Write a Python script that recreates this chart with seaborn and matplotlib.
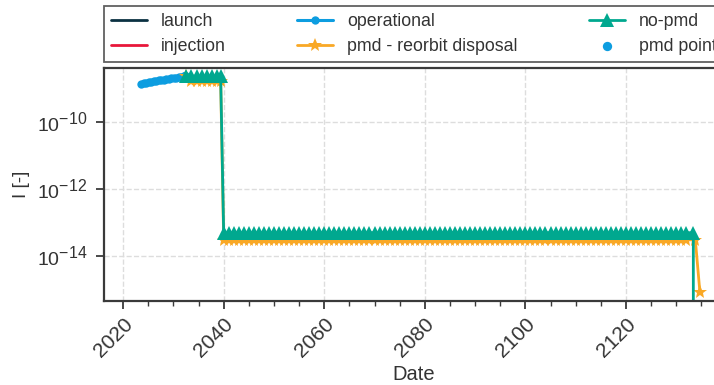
import numpy as np
import pandas as pd
import matplotlib
matplotlib.use("Agg")
import matplotlib.pyplot as plt
import matplotlib._mathtext as _mathtext
from matplotlib.ticker import MultipleLocator, LogLocator, NullLocator
import seaborn as sns

# Operational phase (semi-annual samples)
op_dates = [2023.6, 2024.1, 2024.6, 2025.1, 2025.6, 2026.1, 2026.6, 2027.1,
            2027.6, 2028.1, 2028.6, 2029.1, 2029.6, 2030.1, 2030.6, 2031.1,
            2031.6, 2032.1, 2032.4]
op_values = [1.35e-9, 1.40e-9, 1.46e-9, 1.50e-9, 1.56e-9, 1.60e-9, 1.66e-9,
             1.70e-9, 1.76e-9, 1.80e-9, 1.86e-9, 1.90e-9, 1.96e-9, 2.00e-9,
             2.06e-9, 2.12e-9, 2.20e-9, 2.26e-9, 2.30e-9]

# No post-mission disposal
nopmd_dates = [2032.6, 2033.6, 2034.6, 2035.6, 2036.6, 2037.6, 2038.6, 2039.4] + \
              list(range(2040, 2134)) + [2133.4]
nopmd_values = [2.3e-9] * 8 + [4.9e-14] * 94 + [1e-17]
nopmd_dates[-2] = 2133.4

# Post-mission disposal (reorbit)
pmd_dates = [2032.6, 2033.6, 2034.6, 2035.6, 2036.6, 2037.6, 2038.6, 2039.4] + \
            list(range(2040, 2134)) + [2134.7]
pmd_values = [2.3e-9] + [1.6e-9] * 7 + [3.0e-14] * 94 + [8.5e-16]
pmd_dates[-2] = 2133.8

# PMD point
pmd_point_date = [2032.4]
pmd_point_value = [2.3e-9]

c_launch = "#0b3142"
c_inj = "#e8173a"
c_op = "#0d9de0"
c_pmd = "#f9a825"
c_nopmd = "#00a88f"

sns.set_style("ticks")
plt.rcParams["font.family"] = ["Liberation Sans", "DejaVu Sans"]
plt.rcParams["mathtext.fontset"] = "custom"
plt.rcParams["mathtext.rm"] = "Liberation Sans"
plt.rcParams["mathtext.it"] = "Liberation Sans:italic"
plt.rcParams["mathtext.bf"] = "Liberation Sans:bold"
# larger exponents on the log-axis labels
_mathtext.SHRINK_FACTOR = 0.82

fig = plt.figure(figsize=(7.14, 3.85), dpi=100)
ax = fig.add_axes([104 / 714, 84 / 385, 620 / 714, 233 / 385])

ax.plot([], [], color=c_launch, lw=2, label="launch")
ax.plot([], [], color=c_inj, lw=2, label="injection")
sns.lineplot(x=op_dates, y=op_values, ax=ax, color=c_op, marker="o",
             markersize=6, markeredgewidth=0, lw=2.2, estimator=None, sort=False,
             label="operational")
sns.lineplot(x=pmd_dates, y=pmd_values, ax=ax, color=c_pmd, marker="*",
             markersize=10, markeredgewidth=0, lw=2, estimator=None, sort=False,
             label="pmd - reorbit disposal")
sns.lineplot(x=nopmd_dates, y=nopmd_values, ax=ax, color=c_nopmd, marker="^",
             markersize=9.5, markeredgewidth=0, lw=2, estimator=None, sort=False,
             label="no-pmd")
sns.scatterplot(x=pmd_point_date, y=pmd_point_value, ax=ax, color=c_op, s=45,
                linewidth=0, label="pmd point", zorder=1)

ax.set_yscale("log")
ax.set_ylim(4.5e-16, 4.0e-9)
ax.set_xlim(2016.2, 2139.5)
ax.yaxis.set_major_locator(LogLocator(base=100))
ax.yaxis.set_minor_locator(NullLocator())
ax.xaxis.set_major_locator(MultipleLocator(20))
ax.xaxis.set_minor_locator(MultipleLocator(5))

ax.grid(True, which="major", ls="--", color="#dddddd", lw=1)
for s in ax.spines.values():
    s.set_color("#3a3a3a")
    s.set_linewidth(1.6)
ax.tick_params(axis="both", which="major", labelsize=15, length=6, width=1.3,
               color="#3a3a3a", labelcolor="#333333")
ax.tick_params(axis="y", which="major", labelsize=14, pad=6)
ax.tick_params(axis="both", which="minor", length=3.5, width=1, color="#3a3a3a")
plt.setp(ax.get_xticklabels(), rotation=45, ha="right", rotation_mode="anchor")

ax.set_xlabel("Date", fontsize=14.5, color="#333333", labelpad=3)
ax.set_ylabel("I [-]", fontsize=13.5, color="#333333", labelpad=5)

leg = ax.legend(loc="lower left", bbox_to_anchor=(0, 1.025, 1, 0.2),
                mode="expand", ncol=3, borderaxespad=0, fontsize=12.8,
                frameon=True, fancybox=False, handlelength=2.0,
                labelspacing=0.45)
leg.get_frame().set_edgecolor("#3a3a3a")
leg.get_frame().set_linewidth(1.3)
for t in leg.get_texts():
    t.set_color("#333333")

fig.savefig("out.png", dpi=100)
